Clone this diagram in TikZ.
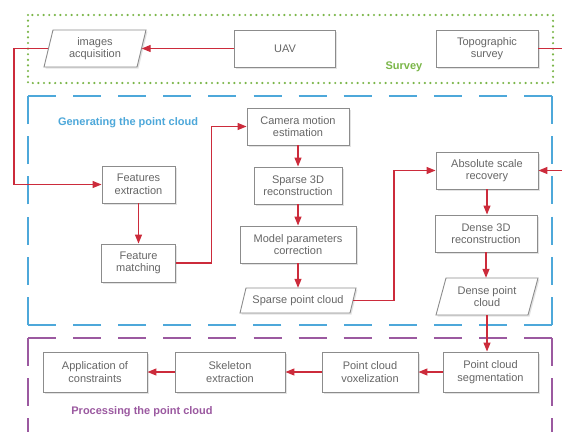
\documentclass[tikz,border=0pt]{standalone}
\usepackage{fontspec}
\setmainfont{Liberation Sans}
\usetikzlibrary{arrows.meta,shadows}
\definecolor{txt}{HTML}{666666}
\definecolor{bord}{HTML}{8C8C8C}
\definecolor{arr}{HTML}{CC2B3B}
\definecolor{grn}{HTML}{7AB648}
\definecolor{blu}{HTML}{4DA8DA}
\definecolor{pur}{HTML}{9B59A0}
\begin{document}
\begin{tikzpicture}[x=1pt,y=-1pt,
  boxtext/.style={text=txt, font=\fontsize{11}{12.5}\selectfont, align=center, inner sep=0pt},
  box/.style={boxtext, draw=bord, line width=0.9pt, fill=white,
    drop shadow={opacity=0.22, shadow xshift=1.5pt, shadow yshift=-1.5pt}},
  paraline/.style={draw=bord, line width=0.9pt, fill=white,
    drop shadow={opacity=0.22, shadow xshift=1.5pt, shadow yshift=-1.5pt}},
  conn/.style={draw=arr, line width=1.2pt, -{Triangle[length=9pt,width=7pt]}},
  hside/.style={line width=1.8pt, dash pattern=on 28pt off 17.1pt},
  vside/.style={line width=1.8pt, dash pattern=on 28pt off 12.2pt},
  grp/.style={font=\fontsize{11}{13}\selectfont\bfseries, inner sep=0pt}]
\clip (0,0) rectangle (562,431);
\fill[white] (0,0) rectangle (562,431);
% frames
\draw[grn, line width=2.4pt, dash pattern=on 0pt off 5.6pt, line cap=round] (28,15) rectangle (553,83);
\draw[blu, hside] (28,96) -- (552,96);
\draw[blu, vside] (552,96) -- (552,325);
\draw[blu, hside] (552,325) -- (28,325);
\draw[blu, vside] (28,325) -- (28,96);
\draw[pur, hside] (28,338) -- (552,338);
\draw[pur, vside] (552,338) -- (552,445);
\draw[pur, vside] (28,338) -- (28,445);
% group labels
\node[grp, text=grn] (lsurvey) at (404,67) {Survey};
\node[grp, text=blu] (lgen) at (128,123) {Generating the point cloud};
\node[grp, text=pur] (lproc) at (142,411.5) {Processing the point cloud};
% parallelograms
\draw[paraline] (44,67) -- (53,30) -- (146,30) -- (137,67) -- cycle;
\node[boxtext, minimum width=93pt, minimum height=37pt] (img) at (95,48.5) {images\\acquisition};
\draw[paraline] (240,313) -- (246,288) -- (356,288) -- (350,313) -- cycle;
\node[boxtext, minimum width=110pt, minimum height=25pt] (spc) at (298,300.5) {Sparse point cloud};
\draw[paraline] (436,315) -- (446,278) -- (538,278) -- (528,315) -- cycle;
\node[boxtext, minimum width=92pt, minimum height=37pt] (dpc) at (487,296.5) {Dense point\\cloud};
% boxes
\node[box, minimum width=101pt, minimum height=37pt] (uav) at (285,48.5) {UAV};
\node[box, minimum width=102pt, minimum height=37pt] (topo) at (487,48.5) {Topographic\\survey};
\node[box, minimum width=73pt, minimum height=37pt] (fe) at (138.5,184.5) {Features\\extraction};
\node[box, minimum width=74pt, minimum height=38pt] (fm) at (138.5,263) {Feature\\matching};
\node[box, minimum width=102pt, minimum height=37pt] (cam) at (298,126.5) {Camera motion\\estimation};
\node[box, minimum width=88pt, minimum height=37pt] (sp3) at (298,185.5) {Sparse 3D\\reconstruction};
\node[box, minimum width=116pt, minimum height=37pt] (mpc) at (298,244.5) {Model parameters\\correction};
\node[box, minimum width=102pt, minimum height=37pt] (abs) at (487,170.5) {Absolute scale\\recovery};
\node[box, minimum width=102pt, minimum height=37pt] (d3d) at (486,233.5) {Dense 3D\\reconstruction};
\node[box, minimum width=95pt, minimum height=40pt] (seg) at (490.5,372) {Point cloud\\segmentation};
\node[box, minimum width=96pt, minimum height=40pt] (vox) at (370,372) {Point cloud\\voxelization};
\node[box, minimum width=110pt, minimum height=40pt] (skel) at (230,372) {Skeleton\\extraction};
\node[box, minimum width=104pt, minimum height=40pt] (app) at (95,372) {Application of\\constraints};
% connectors
\coordinate (c1) at (14,48.5);
\coordinate (c2) at (566,48.5);
\coordinate (c3) at (211.5,263);
\coordinate (c4) at (394,300.5);
\draw[conn] (uav.west) -- (img.east);
\draw[conn] (img.west) -- (c1) |- (fe.west);
\draw[conn] (topo.east) -- (c2) |- (abs.east);
\draw[conn] (fe.south) -- (fm.north);
\draw[conn] (fm.east) -- (c3) |- (cam.west);
\draw[conn] (cam.south) -- (sp3.north);
\draw[conn] (sp3.south) -- (mpc.north);
\draw[conn] (mpc.south) -- (spc.north);
\draw[conn] (spc.east) -- (c4) |- (abs.west);
\draw[conn] (abs.south) -- (abs.south |- d3d.north);
\draw[conn] (d3d.south) -- (d3d.south |- dpc.north);
\draw[conn] (dpc.south) -- (dpc.south |- seg.north);
\draw[conn] (seg.west) -- (vox.east);
\draw[conn] (vox.west) -- (skel.east);
\draw[conn] (skel.west) -- (app.east);
\end{tikzpicture}
\end{document}
